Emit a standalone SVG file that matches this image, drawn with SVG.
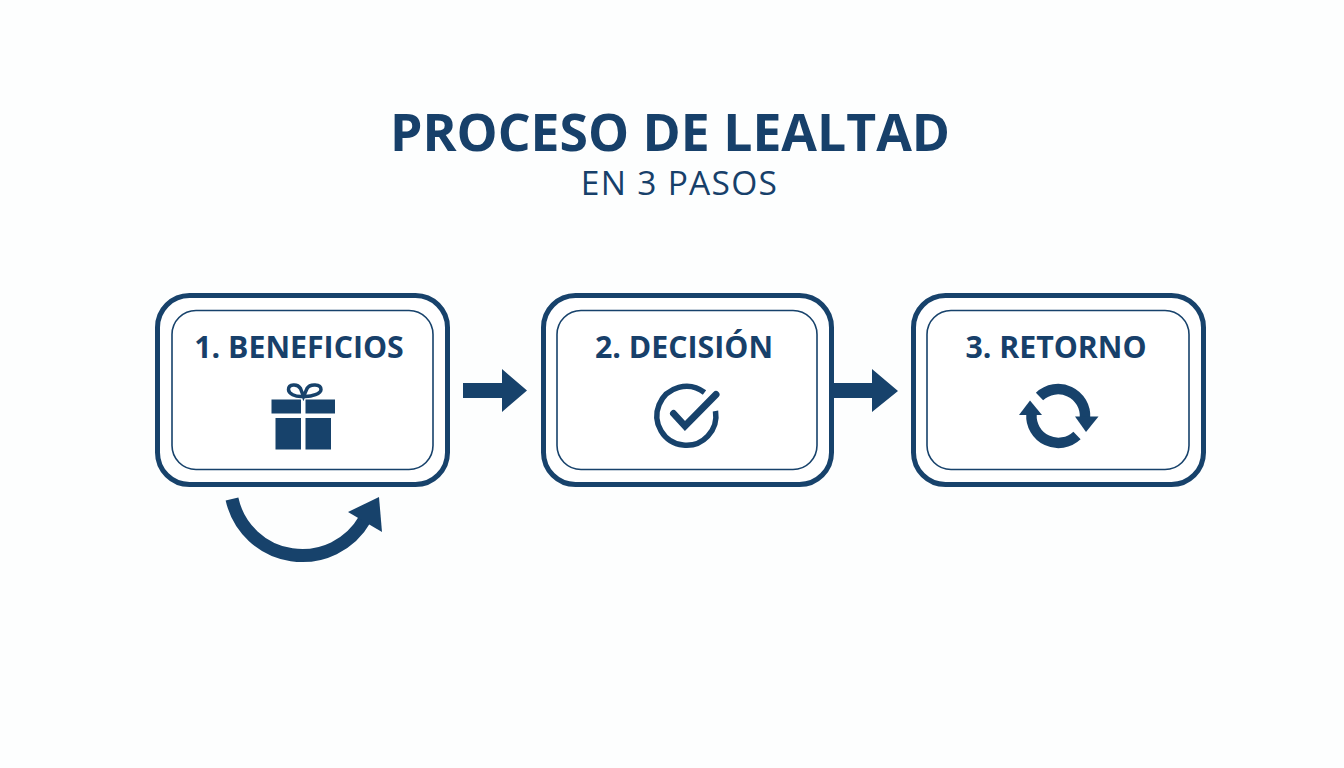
<svg xmlns="http://www.w3.org/2000/svg" width="1344" height="768" viewBox="0 0 1344 768">
<style>
text{font-family:"Open Sans","Noto Sans","Liberation Sans",sans-serif;fill:#17406a;text-anchor:middle}
.title{font-size:51.700px;font-weight:700}
.sub{font-size:33.500px;font-weight:400;letter-spacing:1.300px}
.label{font-size:30.300px;font-weight:700}
.outer{fill:#fff;stroke:#17426b;stroke-width:5}
.inner{fill:#fff;stroke:#17426b;stroke-width:1.600}
.solid{fill:#17426b}
.line{fill:none;stroke:#17426b}
</style>
<rect width="1344" height="768" fill="#fdfefe"/>
<g id="title"><text class="title" x="670" y="151">PROCESO DE LEALTAD</text><text class="sub" x="679.500" y="195">EN 3 PASOS</text></g>
<g id="node-1">
<rect class="outer" x="157.500" y="295.500" width="290" height="189" rx="32"/>
<rect class="inner" x="172" y="310.500" width="261" height="159" rx="24"/>
<text class="label" x="299" y="358">1. BENEFICIOS</text>
<g id="gift">
<path class="line" stroke-width="3.500" d="M302.500 396.500C295 397 288.500 393.500 288.500 389.500C288.500 384 297.500 383.500 300.500 388.500L303.500 396.500L307 388.500C310 383.500 321 384 321 389.500C321 393.500 312 397 303.500 396.500"/>
<rect class="solid" x="271.500" y="399.500" width="29.500" height="14"/><rect class="solid" x="305.500" y="399.500" width="29.500" height="14"/>
<rect class="solid" x="275.500" y="418" width="25.500" height="31.500"/><rect class="solid" x="305.500" y="418" width="25.500" height="31.500"/>
</g>
</g>
<g id="node-2">
<rect class="outer" x="543.500" y="295.500" width="288" height="189" rx="32"/>
<rect class="inner" x="557" y="310.500" width="260" height="159" rx="24"/>
<text class="label" x="684" y="358">2. DECISIÓN</text>
<g id="check">
<path class="line" stroke-width="5.500" d="M704.500 392.500A29.500 29.500 0 1 0 715.500 411"/>
<path class="line" stroke-width="7" stroke-linecap="round" d="M673.500 413.500L685 426L716 394.500"/>
</g>
</g>
<g id="node-3">
<rect class="outer" x="913.500" y="295.500" width="290" height="189" rx="32"/>
<rect class="inner" x="927" y="310.500" width="262" height="159" rx="24"/>
<text class="label" x="1056" y="358">3. RETORNO</text>
<g id="cycle">
<path class="line" stroke-width="10.500" d="M1039.500 396.500A27 27 0 0 1 1085 418"/>
<path class="solid" d="M1075 416.500H1098.500L1086 432Z"/>
<path class="line" stroke-width="10.500" d="M1031.500 414A27 27 0 0 0 1077 435.500"/>
<path class="solid" d="M1019 415H1042L1030 400.500Z"/>
</g>
</g>
<g id="connectors">
<path class="solid" d="M463 383H502V369L527 390.500L502 412V398H463Z"/>
<path class="solid" d="M834 383H872V369L898 391L872 412V398H834Z"/>
<path class="line" stroke-width="13" d="M232 499A72 72 0 0 0 365 519"/>
<path class="solid" d="M348 512L379 497L382 532Z"/>
</g>
</svg>
